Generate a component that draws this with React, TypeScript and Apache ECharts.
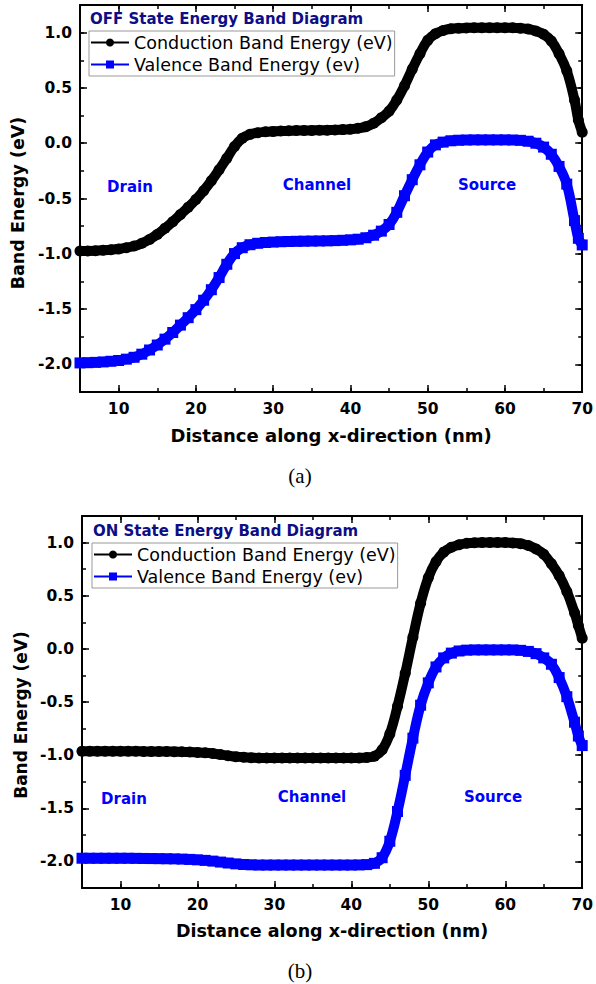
import React, { useEffect, useRef } from "react";
import * as echarts from "echarts";

// Distance along the device (nm)
const distanceNm = [
  5, 6, 7, 8, 9, 10, 11, 12, 13, 14,
  15, 16, 17, 18, 19, 20, 21, 22, 23, 24,
  25, 26, 27, 28, 29, 30, 31, 32, 33, 34,
  35, 36, 37, 38, 39, 40, 41, 42, 43, 44,
  45, 46, 47, 48, 49, 50, 51, 52, 53, 54,
  55, 56, 57, 58, 59, 60, 61, 62, 63, 64,
  65, 66, 67, 68, 69, 69.5, 70,
];

// (a) OFF state
const conductionOff = [
  -0.975, -0.974, -0.972, -0.968, -0.963, -0.956, -0.945, -0.93, -0.905, -0.87,
  -0.825, -0.77, -0.71, -0.645, -0.58, -0.51, -0.43, -0.34, -0.24, -0.135,
  -0.03, 0.045, 0.08, 0.095, 0.103, 0.107, 0.11, 0.112, 0.114, 0.115,
  0.116, 0.117, 0.118, 0.12, 0.123, 0.127, 0.135, 0.15, 0.18, 0.23,
  0.29, 0.39, 0.52, 0.67, 0.81, 0.93, 0.99, 1.02, 1.035, 1.04,
  1.043, 1.045, 1.045, 1.045, 1.045, 1.045, 1.044, 1.04, 1.033, 1.015,
  0.985, 0.925, 0.81, 0.655, 0.39, 0.21, 0.1,
];
const valenceOff = [
  -1.987, -1.985, -1.982, -1.978, -1.972, -1.965, -1.953, -1.936, -1.908, -1.87,
  -1.825, -1.772, -1.712, -1.645, -1.578, -1.505, -1.42, -1.325, -1.215, -1.095,
  -0.998, -0.945, -0.918, -0.905, -0.898, -0.894, -0.891, -0.889, -0.887, -0.886,
  -0.885, -0.884, -0.883, -0.881, -0.878, -0.874, -0.868, -0.855, -0.832, -0.795,
  -0.735, -0.625, -0.475, -0.33, -0.195, -0.08, -0.015, 0.01, 0.022, 0.027,
  0.029, 0.03, 0.03, 0.03, 0.03, 0.03, 0.029, 0.026, 0.018, 0.0,
  -0.035, -0.1, -0.21, -0.37, -0.7, -0.86, -0.92,
];

// (b) ON state
const conductionOn = [
  -0.964, -0.964, -0.964, -0.964, -0.964, -0.964, -0.964, -0.964, -0.965, -0.965,
  -0.965, -0.966, -0.967, -0.969, -0.971, -0.974, -0.978, -0.985, -0.995, -1.005,
  -1.014, -1.02, -1.024, -1.026, -1.027, -1.027, -1.027, -1.027, -1.027, -1.027,
  -1.027, -1.027, -1.027, -1.027, -1.027, -1.027, -1.026, -1.022, -1.01, -0.95,
  -0.8, -0.54, -0.23, 0.11, 0.43, 0.67, 0.82, 0.91, 0.955, 0.98,
  0.993, 0.999, 1.0, 1.0, 1.0, 1.0, 0.997, 0.99, 0.972, 0.94,
  0.89, 0.8, 0.69, 0.54, 0.34, 0.22, 0.1,
];
const valenceOn = [
  -1.97, -1.97, -1.97, -1.97, -1.97, -1.97, -1.97, -1.971, -1.972, -1.973,
  -1.974, -1.975, -1.976, -1.978, -1.981, -1.985, -1.99, -1.997, -2.006, -2.015,
  -2.023, -2.029, -2.032, -2.034, -2.034, -2.034, -2.034, -2.034, -2.034, -2.034,
  -2.034, -2.034, -2.034, -2.034, -2.034, -2.034, -2.033, -2.03, -2.018, -1.965,
  -1.81, -1.53, -1.19, -0.84, -0.53, -0.32, -0.17, -0.085, -0.04, -0.02,
  -0.012, -0.01, -0.01, -0.01, -0.01, -0.01, -0.01, -0.014, -0.024, -0.045,
  -0.085, -0.145, -0.27, -0.45, -0.69, -0.82, -0.91,
];

const seriesNames = ["Conduction Band Energy (eV)", "Valence Band Energy (ev)"];
const panelTitles = ["OFF State Energy Band Diagram", "ON State Energy Band Diagram"];
const regionLabels = ["Drain", "Channel", "Source"];
const panelCaptions = ["(a)", "(b)"];
const xTitle = "Distance along x-direction (nm)";
const yTitle = "Band Energy (eV)";

const X_MIN = 5;
const X_MAX = 70;
const Y_MIN = -2.25;
const Y_MAX = 1.25;

const FONT = "DejaVu Sans";

function buildAxes(g: number, xNameGap: number, xNameSize: number) {
  const tickStyle = { color: "#000", width: 1.5 };
  const lineStyle = { color: "#000", width: 2 };
  const xAxes = [
    {
      gridIndex: g, type: "value", position: "bottom", min: X_MIN, max: X_MAX,
      minInterval: 10, maxInterval: 10,
      axisLine: { show: true, onZero: false, lineStyle },
      axisTick: { show: true, inside: true, length: 7, lineStyle: tickStyle },
      axisLabel: {
        show: true, margin: 9, color: "#000", fontFamily: FONT, fontWeight: "bold", fontSize: 15.5,
        formatter: (v: number) => (Math.abs(v % 10) < 1e-6 ? String(v) : ""),
      },
      splitLine: { show: false },
      name: xTitle, nameLocation: "middle", nameGap: xNameGap,
      nameTextStyle: { color: "#000", fontFamily: FONT, fontWeight: "bold", fontSize: xNameSize },
    },
    {
      gridIndex: g, type: "value", position: "bottom", min: X_MIN, max: X_MAX, interval: 5,
      axisLine: { show: false, onZero: false },
      axisTick: { show: true, inside: true, length: 4, lineStyle: tickStyle },
      axisLabel: { show: false }, splitLine: { show: false },
    },
    {
      gridIndex: g, type: "value", position: "top", min: X_MIN, max: X_MAX,
      minInterval: 10, maxInterval: 10,
      axisLine: { show: true, onZero: false, lineStyle },
      axisTick: { show: true, inside: true, length: 7, lineStyle: tickStyle },
      axisLabel: { show: false }, splitLine: { show: false },
    },
    {
      gridIndex: g, type: "value", position: "top", min: X_MIN, max: X_MAX, interval: 5,
      axisLine: { show: false, onZero: false },
      axisTick: { show: true, inside: true, length: 4, lineStyle: tickStyle },
      axisLabel: { show: false }, splitLine: { show: false },
    },
  ];
  const yAxes = [
    {
      gridIndex: g, type: "value", position: "left", min: Y_MIN, max: Y_MAX,
      minInterval: 0.5, maxInterval: 0.5,
      axisLine: { show: true, onZero: false, lineStyle },
      axisTick: { show: true, inside: true, length: 7, lineStyle: tickStyle },
      axisLabel: {
        show: true, margin: 8, color: "#000", fontFamily: FONT, fontWeight: "bold", fontSize: 15.5,
        formatter: (v: number) =>
          Math.abs(v * 2 - Math.round(v * 2)) < 1e-6 ? (Math.abs(v) < 1e-9 ? "0.0" : v.toFixed(1)) : "",
      },
      splitLine: { show: false },
    },
    {
      gridIndex: g, type: "value", position: "left", min: Y_MIN, max: Y_MAX, interval: 0.25,
      axisLine: { show: false, onZero: false },
      axisTick: { show: true, inside: true, length: 4, lineStyle: tickStyle },
      axisLabel: { show: false }, splitLine: { show: false },
    },
    {
      gridIndex: g, type: "value", position: "right", min: Y_MIN, max: Y_MAX,
      minInterval: 0.5, maxInterval: 0.5,
      axisLine: { show: true, onZero: false, lineStyle },
      axisTick: { show: true, inside: true, length: 7, lineStyle: tickStyle },
      axisLabel: { show: false }, splitLine: { show: false },
    },
    {
      gridIndex: g, type: "value", position: "right", min: Y_MIN, max: Y_MAX, interval: 0.25,
      axisLine: { show: false, onZero: false },
      axisTick: { show: true, inside: true, length: 4, lineStyle: tickStyle },
      axisLabel: { show: false }, splitLine: { show: false },
    },
  ];
  return { xAxes, yAxes };
}

function bandSeries(name: string, values: number[], axisIndex: number, color: string, symbol: string) {
  return {
    type: "line",
    name,
    xAxisIndex: axisIndex,
    yAxisIndex: axisIndex,
    data: distanceNm.map((x, i) => [x, values[i]]),
    smooth: 0.4,
    symbol,
    symbolSize: 11,
    showSymbol: true,
    showAllSymbol: true,
    lineStyle: { color, width: 10 },
    itemStyle: { color },
    silent: true,
    clip: false,
    z: 3,
  };
}

function legendFor(left: number, top: number) {
  return {
    left, top, orient: "vertical",
    data: seriesNames,
    itemWidth: 38, itemHeight: 10, itemGap: 4,
    padding: [2.5, 2, 2.5, 1],
    borderColor: "#999", borderWidth: 1,
    selectedMode: false,
    lineStyle: { width: 2 },
    textStyle: { color: "#000", fontFamily: FONT, fontSize: 17.5 },
  };
}

function labelText(text: string, x: number, y: number, size: number, color: string, bold = true, family = FONT) {
  return {
    type: "text", x, y, silent: true,
    style: {
      text, fill: color, font: `${bold ? "bold " : ""}${size}px '${family}'`,
      textAlign: "center", textVerticalAlign: "middle",
    },
  };
}

export default function App() {
  const ref = useRef<HTMLDivElement>(null);
  useEffect(() => {
    if (!ref.current) return;
    const chart = echarts.init(ref.current, null, { renderer: "svg" });
    const a = buildAxes(0, 34, 18);
    const b = buildAxes(1, 33.5, 17.5);
    const option: any = {
      animation: false,
      backgroundColor: "#fff",
      title: [
        {
          text: panelTitles[0], left: 90, top: 11.5, padding: 0,
          textStyle: { color: "#0d0d85", fontFamily: FONT, fontWeight: "bold", fontSize: 15 },
        },
        {
          text: panelTitles[1], left: 93, top: 523.5, padding: 0,
          textStyle: { color: "#0d0d85", fontFamily: FONT, fontWeight: "bold", fontSize: 15 },
        },
      ],
      legend: [legendFor(89, 31), legendFor(92, 543)],
      grid: [
        { left: 80, top: 5, width: 507, height: 387 },
        { left: 82, top: 516, width: 501, height: 372 },
      ],
      xAxis: [...a.xAxes, ...b.xAxes],
      yAxis: [...a.yAxes, ...b.yAxes],
      series: [
        bandSeries(seriesNames[0], conductionOff, 0, "#000000", "circle"),
        bandSeries(seriesNames[1], valenceOff, 0, "#0000ff", "rect"),
        bandSeries(seriesNames[0], conductionOn, 4, "#000000", "circle"),
        bandSeries(seriesNames[1], valenceOn, 4, "#0000ff", "rect"),
      ],
      graphic: [
        labelText(regionLabels[0], 130, 187, 15, "#0000ff"),
        labelText(regionLabels[1], 317, 185, 15, "#0000ff"),
        labelText(regionLabels[2], 487, 185, 15, "#0000ff"),
        labelText(regionLabels[0], 124, 799, 15, "#0000ff"),
        labelText(regionLabels[1], 312, 797, 15, "#0000ff"),
        labelText(regionLabels[2], 493, 797, 15, "#0000ff"),
        { ...labelText(yTitle, 18, 203, 17.5, "#000"), rotation: Math.PI / 2 },
        { ...labelText(yTitle, 21, 715, 17, "#000"), rotation: Math.PI / 2 },
        labelText(panelCaptions[0], 300, 476, 21, "#000", false, "Liberation Serif"),
        labelText(panelCaptions[1], 300, 971, 21, "#000", false, "Liberation Serif"),
      ],
    };
    chart.setOption(option);
    return () => chart.dispose();
  }, []);
  return (
    <div
      ref={ref}
      style={{ position: "absolute", left: 0, top: 0, width: 596, height: 984, background: "#fff" }}
    />
  );
}
